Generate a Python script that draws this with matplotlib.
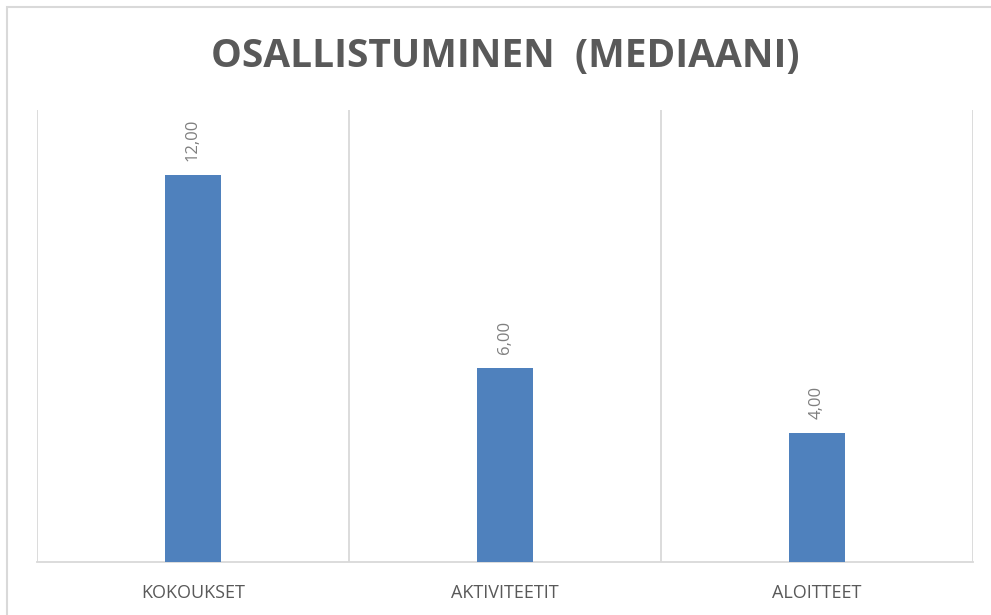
import matplotlib
matplotlib.use("Agg")
import matplotlib.pyplot as plt
from matplotlib.patches import Rectangle

# Tiedot
kategoriat = ["KOKOUKSET", "AKTIVITEETIT", "ALOITTEET"]
mediaanit = [12.0, 6.0, 4.0]
otsikko = "OSALLISTUMINEN  (MEDIAANI)"

plt.rcParams['font.family'] = ['Open Sans', 'DejaVu Sans']

fig = plt.figure(figsize=(9.91, 6.15), dpi=100)
ax = fig.add_axes([37 / 991, 1 - 562 / 615, (973 - 37) / 991, (562 - 110) / 615])

x = range(len(kategoriat))
bars = ax.bar(x, mediaanit, width=0.18, color='#4f81bd', zorder=3)

for xi, v in zip(x, mediaanit):
    ax.annotate(f"{v:.2f}".replace('.', ','), (xi, v), xytext=(0, 10),
                textcoords='offset points', rotation=90, ha='center', va='bottom',
                color='#7f7f7f', fontsize=12)

ax.set_xlim(-0.5, len(kategoriat) - 0.5)
ax.set_ylim(0, 14)
for b in [i - 0.5 for i in range(len(kategoriat) + 1)]:
    ax.axvline(b, color='#d9d9d9', lw=1.3, zorder=1)

for s in ['top', 'right', 'left']:
    ax.spines[s].set_visible(False)
ax.spines['bottom'].set_color('#d9d9d9')
ax.spines['bottom'].set_linewidth(1.3)
ax.set_yticks([])
ax.set_xticks(list(x))
ax.set_xticklabels(kategoriat, color='#595959', fontsize=13)
ax.tick_params(axis='x', length=0, pad=16)

fig.text(505 / 991, 1 - 57 / 615, otsikko, ha='center', va='center',
         fontsize=28, fontweight='bold', color='#595959')

fig.patches.append(Rectangle((7 / 991, -0.1), 1.2, 1 - 7 / 615 + 0.1,
                             transform=fig.transFigure, fill=False,
                             edgecolor='#d9d9d9', lw=1.5))

fig.savefig('out.png', dpi=100)
